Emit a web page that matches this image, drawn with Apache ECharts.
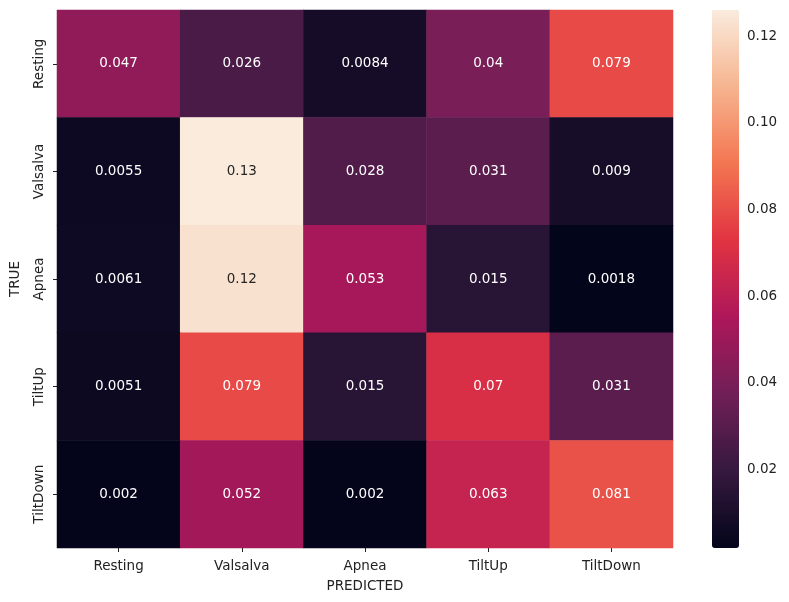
<!DOCTYPE html>
<html>
<head>
<meta charset="utf-8">
<script src="https://cdn.jsdelivr.net/npm/echarts@6/dist/echarts.min.js"></script>
<style>
  html, body { margin: 0; padding: 0; background: #fff; }
  #chart { width: 789px; height: 602px; }
</style>
</head>
<body>
<div id="chart"></div>
<script>
// 类别
const predicted = ['Resting', 'Valsalva', 'Apnea', 'TiltUp', 'TiltDown']
const truth = ['Resting', 'Valsalva', 'Apnea', 'TiltUp', 'TiltDown']
// 每行一个真实类别
const rowResting = [0.047, 0.026, 0.0084, 0.04, 0.079]
const rowValsalva = [0.0055, 0.126, 0.028, 0.031, 0.009]
const rowApnea = [0.0061, 0.123, 0.053, 0.015, 0.0018]
const rowTiltUp = [0.0051, 0.079, 0.015, 0.07, 0.031]
const rowTiltDown = [0.002, 0.052, 0.002, 0.063, 0.081]
const rows = [rowResting, rowValsalva, rowApnea, rowTiltUp, rowTiltDown]
// 色条刻度
const cbarTicks = [0.02, 0.04, 0.06, 0.08, 0.10, 0.12]
const vMin = 0.0018
const vMax = 0.1261

// rocket 色带
const rocket = ['#03051a', '#35193e', '#701f57', '#ad1759', '#e13342', '#f37651', '#f6b48f', '#faebdd']

// 浅色格子用深色文字
const data = []
rows.forEach((row, i) => {
  row.forEach((v, j) => {
    data.push({
      value: [j, i, v],
      label: { color: v > 0.1 ? '#262626' : '#fff' }
    })
  })
})

// 类似 '.2g'
function fmt(v) {
  return String(Number(v.toPrecision(2)))
}

const font = 'DejaVu Sans'
const fs = 13.5
const chart = echarts.init(document.getElementById('chart'))
chart.setOption({
  animation: false,
  textStyle: { fontFamily: font },
  grid: [
    { left: 53, top: 10, width: 620, height: 538 },
    { left: 712, top: 10, width: 27, height: 538 }
  ],
  xAxis: [
    {
      gridIndex: 0,
      type: 'category',
      data: predicted,
      name: 'PREDICTED',
      nameLocation: 'middle',
      nameGap: 31,
      nameTextStyle: { color: '#222', fontSize: fs, fontFamily: font },
      axisLine: { show: false },
      axisTick: { show: true, alignWithLabel: true, length: 4, lineStyle: { color: '#222' } },
      axisLabel: { color: '#222', fontSize: fs, margin: 11, fontFamily: font },
      splitArea: { show: false }
    },
    { gridIndex: 1, type: 'value', show: false, min: 0, max: 1 }
  ],
  yAxis: [
    {
      gridIndex: 0,
      type: 'category',
      data: truth,
      inverse: true,
      name: 'TRUE',
      nameLocation: 'middle',
      nameGap: 35,
      nameRotate: 90,
      nameTextStyle: { color: '#222', fontSize: fs, fontFamily: font },
      axisLine: { show: false },
      axisTick: { show: true, alignWithLabel: true, length: 4, lineStyle: { color: '#222' } },
      axisLabel: { color: '#222', fontSize: fs, rotate: 90, margin: 11, fontFamily: font },
      splitArea: { show: false }
    },
    {
      gridIndex: 1,
      type: 'value',
      position: 'right',
      min: vMin,
      max: vMax,
      axisLine: { show: false },
      splitLine: { show: false },
      axisTick: { show: true, length: 4, lineStyle: { color: '#222' }, customValues: cbarTicks },
      axisLabel: {
        color: '#222', fontSize: fs, margin: 8, fontFamily: font,
        customValues: cbarTicks,
        formatter: v => v.toFixed(2)
      }
    }
  ],
  visualMap: {
    type: 'continuous',
    min: vMin,
    max: vMax,
    seriesIndex: 0,
    calculable: false,
    orient: 'vertical',
    left: 712,
    top: 10,
    padding: 0,
    itemWidth: 27,
    itemHeight: 538,
    text: null,
    showLabel: false,
    hoverLink: false,
    inRange: { color: rocket }
  },
  series: [
    {
      type: 'heatmap',
      xAxisIndex: 0,
      yAxisIndex: 0,
      data: data,
      itemStyle: { borderWidth: 0 },
      label: {
        show: true,
        fontSize: fs,
        fontFamily: font,
        formatter: p => fmt(p.value[2])
      },
      emphasis: { disabled: true }
    },
    {
      type: 'scatter',
      xAxisIndex: 1,
      yAxisIndex: 1,
      data: [],
      silent: true
    }
  ]
})
</script>
</body>
</html>
